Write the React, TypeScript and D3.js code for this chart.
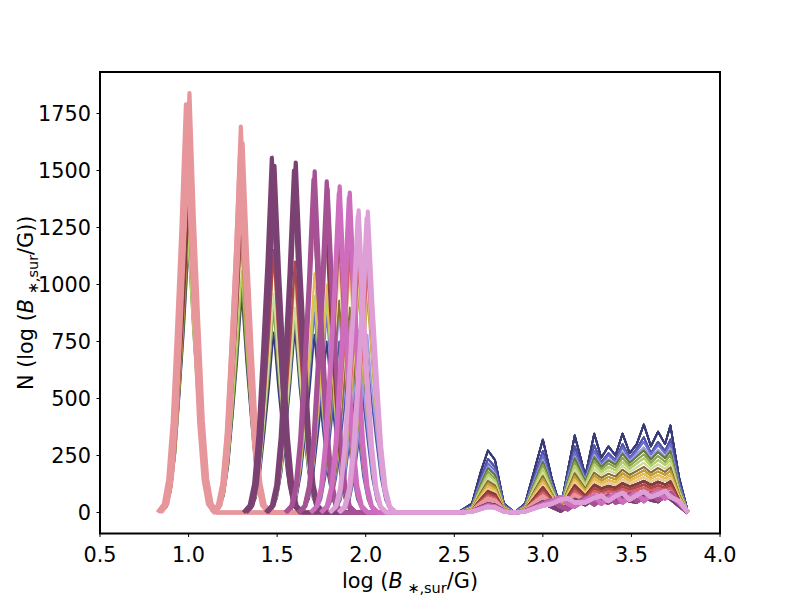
import * as d3 from "d3";

// tab20b palette, indexed by series colour
const TAB20B = [
  "#393b79", "#5254a3", "#6b6ecf", "#9c9ede",
  "#637939", "#8ca252", "#b5cf6b", "#cedb9c",
  "#8c6d31", "#bd9e39", "#e7ba52", "#e7cb94",
  "#843c39", "#ad494a", "#d6616b", "#e7969c",
  "#7b4173", "#a55194", "#ce6dbd", "#de9ed6",
];

const X_TICKS = [0.5, 1.0, 1.5, 2.0, 2.5, 3.0, 3.5, 4.0];
const Y_TICKS = [0, 250, 500, 750, 1000, 1250, 1500, 1750];

// bin offsets around each low-field peak (log B units)
const PEAK_OFFSETS = [-0.125, -0.1, -0.075, -0.05, -0.025, 0, 0.025, 0.05, 0.075, 0.1, 0.125];

// low-field peaks: [colour index, peak centre, counts at PEAK_OFFSETS]
const LOW_LINES: [number, number, number[]][] = [
  [0, 1.0, [23, 93, 255, 522, 812, 1160, 812, 522, 255, 93, 23]],
  [4, 1.0, [24, 95, 262, 536, 833, 1190, 833, 536, 262, 95, 24]],
  [6, 0.995, [25, 98, 271, 554, 861, 1230, 861, 554, 271, 98, 25]],
  [9, 1.0, [26, 104, 286, 585, 910, 1300, 910, 585, 286, 104, 26]],
  [10, 1.005, [28, 112, 308, 630, 980, 1400, 980, 630, 308, 112, 28]],
  [11, 0.995, [31, 124, 341, 698, 1085, 1550, 1085, 698, 341, 124, 31]],
  [12, 1.0, [27, 108, 297, 608, 945, 1350, 945, 608, 297, 108, 27]],
  [15, 0.985, [36, 143, 394, 806, 1253, 1790, 1253, 806, 394, 143, 36]],
  [15, 1.005, [37, 147, 405, 828, 1288, 1840, 1288, 828, 405, 147, 37]],
  [15, 0.995, [33, 131, 361, 738, 1148, 1640, 1148, 738, 361, 131, 33]],

  [0, 1.3, [19, 76, 209, 428, 665, 950, 665, 428, 209, 76, 19]],
  [4, 1.3, [20, 79, 218, 446, 693, 990, 693, 446, 218, 79, 20]],
  [6, 1.3, [21, 85, 233, 477, 742, 1060, 742, 477, 233, 85, 21]],
  [9, 1.295, [24, 96, 264, 540, 840, 1200, 840, 540, 264, 96, 24]],
  [10, 1.305, [27, 109, 299, 612, 952, 1360, 952, 612, 299, 109, 27]],
  [12, 1.3, [26, 104, 286, 585, 910, 1300, 910, 585, 286, 104, 26]],
  [15, 1.295, [34, 135, 372, 762, 1185, 1693, 1185, 762, 372, 135, 34]],
  [15, 1.305, [32, 130, 356, 729, 1134, 1620, 1134, 729, 356, 130, 32]],
  [15, 1.29, [31, 125, 343, 702, 1092, 1560, 1092, 702, 343, 125, 31]],

  [0, 1.48, [16, 63, 174, 356, 553, 790, 553, 356, 174, 63, 16]],
  [5, 1.48, [18, 71, 196, 401, 623, 890, 623, 401, 196, 71, 18]],
  [7, 1.48, [19, 77, 211, 432, 672, 960, 672, 432, 211, 77, 19]],
  [10, 1.48, [22, 90, 246, 504, 784, 1120, 784, 504, 246, 90, 22]],
  [11, 1.475, [31, 125, 344, 704, 1096, 1565, 1096, 704, 344, 125, 31]],
  [13, 1.48, [23, 92, 253, 518, 805, 1150, 805, 518, 253, 92, 23]],
  [16, 1.47, [31, 124, 342, 700, 1089, 1555, 1089, 700, 342, 124, 31]],
  [16, 1.485, [30, 122, 334, 684, 1064, 1520, 1064, 684, 334, 122, 30]],

  [0, 1.6, [16, 64, 176, 360, 560, 800, 560, 360, 176, 64, 16]],
  [5, 1.6, [17, 69, 189, 387, 602, 860, 602, 387, 189, 69, 17]],
  [7, 1.6, [18, 72, 198, 405, 630, 900, 630, 405, 198, 72, 18]],
  [11, 1.6, [20, 81, 222, 455, 707, 1010, 707, 455, 222, 81, 20]],
  [13, 1.6, [22, 88, 242, 495, 770, 1100, 770, 495, 242, 88, 22]],
  [16, 1.605, [31, 123, 338, 691, 1075, 1535, 1075, 691, 338, 123, 31]],
  [16, 1.595, [30, 120, 330, 675, 1050, 1500, 1050, 675, 330, 120, 30]],

  [0, 1.71, [16, 62, 172, 351, 546, 780, 546, 351, 172, 62, 16]],
  [2, 1.71, [18, 70, 194, 396, 616, 880, 616, 396, 194, 70, 18]],
  [6, 1.71, [19, 76, 209, 428, 665, 950, 665, 428, 209, 76, 19]],
  [10, 1.71, [21, 84, 231, 473, 735, 1050, 735, 473, 231, 84, 21]],
  [12, 1.705, [27, 107, 295, 603, 938, 1340, 938, 603, 295, 107, 27]],
  [17, 1.712, [30, 120, 329, 673, 1047, 1496, 1047, 673, 329, 120, 30]],
  [17, 1.705, [29, 117, 321, 657, 1022, 1460, 1022, 657, 321, 117, 29]],

  [0, 1.78, [15, 60, 165, 338, 525, 750, 525, 338, 165, 60, 15]],
  [2, 1.78, [17, 70, 191, 392, 609, 870, 609, 392, 191, 70, 17]],
  [6, 1.78, [19, 74, 205, 419, 651, 930, 651, 419, 205, 74, 19]],
  [10, 1.78, [20, 80, 220, 450, 700, 1000, 700, 450, 220, 80, 20]],
  [12, 1.775, [25, 100, 275, 563, 875, 1250, 875, 563, 275, 100, 25]],
  [17, 1.78, [29, 116, 319, 653, 1016, 1452, 1016, 653, 319, 116, 29]],
  [17, 1.785, [28, 114, 312, 639, 994, 1420, 994, 639, 312, 114, 28]],

  [1, 1.85, [15, 60, 165, 338, 525, 750, 525, 338, 165, 60, 15]],
  [3, 1.85, [17, 70, 191, 392, 609, 870, 609, 392, 191, 70, 17]],
  [8, 1.85, [19, 74, 205, 419, 651, 930, 651, 419, 205, 74, 19]],
  [11, 1.85, [22, 86, 238, 486, 756, 1080, 756, 486, 238, 86, 22]],
  [13, 1.85, [24, 96, 264, 540, 840, 1200, 840, 540, 264, 96, 24]],
  [18, 1.853, [29, 114, 315, 644, 1001, 1430, 1001, 644, 315, 114, 29]],
  [18, 1.848, [28, 112, 308, 630, 980, 1400, 980, 630, 308, 112, 28]],

  [1, 1.91, [14, 58, 158, 324, 504, 720, 504, 324, 158, 58, 14]],
  [3, 1.91, [17, 66, 183, 374, 581, 830, 581, 374, 183, 66, 17]],
  [8, 1.91, [18, 72, 198, 405, 630, 900, 630, 405, 198, 72, 18]],
  [11, 1.91, [21, 84, 231, 473, 735, 1050, 735, 473, 231, 84, 21]],
  [14, 1.91, [23, 92, 253, 518, 805, 1150, 805, 518, 253, 92, 23]],
  [18, 1.91, [28, 112, 309, 631, 982, 1403, 982, 631, 309, 112, 28]],
  [18, 1.905, [28, 110, 304, 621, 966, 1380, 966, 621, 304, 110, 28]],

  [1, 1.96, [14, 56, 154, 315, 490, 700, 490, 315, 154, 56, 14]],
  [3, 1.96, [16, 64, 176, 360, 560, 800, 560, 360, 176, 64, 16]],
  [9, 1.96, [19, 77, 211, 432, 672, 960, 672, 432, 211, 77, 19]],
  [11, 1.96, [20, 82, 224, 459, 714, 1020, 714, 459, 224, 82, 20]],
  [14, 1.96, [22, 88, 242, 495, 770, 1100, 770, 495, 242, 88, 22]],
  [19, 1.96, [27, 106, 292, 596, 928, 1325, 928, 596, 292, 106, 27]],
  [19, 1.955, [26, 104, 286, 585, 910, 1300, 910, 585, 286, 104, 26]],

  [1, 2.01, [14, 54, 150, 306, 476, 680, 476, 306, 150, 54, 14]],
  [3, 2.01, [16, 62, 172, 351, 546, 780, 546, 351, 172, 62, 16]],
  [9, 2.01, [19, 75, 207, 423, 658, 940, 658, 423, 207, 75, 19]],
  [11, 2.01, [20, 80, 220, 450, 700, 1000, 700, 450, 220, 80, 20]],
  [14, 2.01, [22, 86, 238, 486, 756, 1080, 756, 486, 238, 86, 22]],
  [19, 2.012, [26, 106, 290, 594, 924, 1320, 924, 594, 290, 106, 26]],
  [19, 2.005, [26, 103, 284, 581, 903, 1290, 903, 581, 284, 103, 26]],
];

// high-field bins shared by every series
const HIGH_X = [
  2.52, 2.6, 2.65, 2.69, 2.73, 2.78, 2.84, 2.9, 2.95, 3.0, 3.05, 3.1, 3.14, 3.18, 3.24,
  3.29, 3.33, 3.37, 3.41, 3.45, 3.49, 3.53, 3.57, 3.61, 3.65, 3.69, 3.72, 3.77, 3.82,
];

// high-field counts per colour index
const HIGH_COUNTS: number[][] = [
  [0, 40, 180, 272, 230, 40, 0, 40, 180, 320, 150, 20, 180, 338, 160, 346, 240, 290, 250, 346, 260, 300, 386, 290, 355, 300, 382, 150, 0],
  [0, 30, 150, 235, 200, 35, 0, 35, 150, 270, 130, 20, 160, 290, 150, 295, 220, 260, 230, 300, 240, 280, 330, 260, 310, 270, 320, 130, 0],
  [0, 28, 140, 215, 185, 30, 0, 30, 140, 250, 125, 22, 150, 265, 145, 270, 215, 250, 225, 285, 235, 270, 310, 255, 295, 260, 300, 120, 0],
  [0, 25, 130, 200, 170, 28, 0, 28, 130, 230, 118, 22, 140, 245, 140, 250, 205, 235, 215, 265, 225, 255, 285, 240, 275, 245, 280, 110, 0],
  [0, 24, 125, 195, 165, 27, 0, 27, 125, 222, 115, 20, 135, 238, 135, 242, 200, 228, 210, 258, 218, 245, 272, 232, 265, 238, 270, 105, 0],
  [0, 22, 115, 180, 150, 25, 0, 25, 118, 208, 108, 20, 125, 220, 128, 225, 190, 215, 198, 240, 205, 230, 255, 218, 248, 222, 252, 98, 0],
  [0, 20, 105, 165, 140, 22, 0, 22, 108, 192, 100, 18, 115, 205, 120, 210, 178, 200, 185, 222, 192, 215, 238, 204, 230, 208, 232, 92, 0],
  [0, 18, 95, 150, 128, 20, 0, 20, 100, 175, 92, 16, 105, 188, 112, 192, 165, 185, 172, 205, 178, 198, 218, 190, 212, 192, 215, 85, 0],
  [0, 16, 88, 138, 118, 18, 0, 18, 92, 160, 85, 15, 98, 172, 104, 175, 152, 170, 158, 188, 165, 182, 200, 175, 195, 178, 198, 78, 0],
  [0, 15, 80, 126, 108, 16, 0, 16, 85, 148, 78, 14, 90, 158, 96, 162, 140, 156, 145, 172, 152, 168, 185, 162, 180, 165, 182, 72, 0],
  [0, 14, 72, 115, 98, 15, 0, 15, 78, 135, 72, 13, 82, 145, 88, 148, 128, 142, 133, 158, 140, 154, 170, 148, 165, 150, 166, 66, 0],
  [0, 12, 65, 104, 88, 13, 0, 13, 70, 122, 65, 12, 75, 132, 80, 135, 117, 130, 121, 144, 128, 140, 155, 135, 150, 137, 152, 60, 0],
  [0, 11, 58, 93, 80, 12, 0, 12, 62, 110, 58, 11, 67, 118, 72, 121, 105, 116, 108, 128, 114, 125, 138, 120, 134, 122, 136, 54, 0],
  [0, 10, 52, 82, 70, 11, 0, 11, 55, 97, 52, 10, 60, 104, 64, 106, 93, 103, 96, 114, 101, 111, 122, 107, 119, 108, 120, 48, 0],
  [0, 9, 46, 73, 62, 10, 0, 10, 49, 86, 46, 9, 53, 92, 57, 94, 83, 92, 86, 101, 90, 99, 108, 95, 106, 96, 107, 42, 0],
  [0, 7, 38, 60, 51, 8, 0, 8, 40, 70, 38, 8, 44, 75, 47, 77, 68, 75, 70, 82, 73, 80, 88, 77, 86, 78, 87, 35, 0],
  [0, 5, 22, 36, 30, 6, 0, 6, 24, 45, 26, 8, 30, 55, 36, 62, 50, 44, 60, 68, 52, 48, 72, 56, 50, 78, 62, 30, 0],
  [0, 5, 20, 32, 27, 5, 0, 5, 22, 40, 55, 25, 14, 38, 64, 35, 56, 74, 44, 52, 80, 50, 62, 84, 56, 68, 86, 38, 0],
  [0, 4, 18, 30, 25, 5, 0, 5, 20, 35, 50, 68, 38, 26, 56, 74, 38, 62, 80, 44, 68, 86, 50, 76, 92, 62, 74, 44, 0],
  [0, 4, 15, 25, 22, 4, 0, 4, 18, 30, 38, 56, 62, 44, 44, 64, 74, 50, 72, 86, 56, 76, 92, 68, 80, 95, 68, 50, 0],
];

const WIDTH = 800;
const HEIGHT = 600;
const MARGIN = { top: 72, right: 80, bottom: 66.5, left: 100 };
const FONT = "'DejaVu Sans', sans-serif";

type Pt = [number, number];

function buildSeries() {
  const sorted = LOW_LINES.map((d, i) => ({ d, i })).sort(
    (a, b) => a.d[0] - b.d[0] || a.i - b.i
  );
  return sorted.map(({ d: [color, centre, counts] }) => {
    const pts: Pt[] = [[centre - 0.16, 0]];
    PEAK_OFFSETS.forEach((o, k) => pts.push([centre + o, counts[k]]));
    pts.push([centre + 0.16, 0]);
    HIGH_X.forEach((x, k) => pts.push([x, HIGH_COUNTS[color][k]]));
    return { color, pts };
  });
}

function strokeFor(c: number) {
  if (c >= 15) return 4.2;
  if (c >= 12) return 2.4;
  return 1.8;
}

export default function App() {
  const x = d3.scaleLinear().domain([0.5, 4.0]).range([MARGIN.left, WIDTH - MARGIN.right]);
  const y = d3.scaleLinear().domain([-92, 1932]).range([HEIGHT - MARGIN.bottom, MARGIN.top]);
  const line = d3
    .line<Pt>()
    .x((p) => x(p[0]))
    .y((p) => y(p[1]));
  const series = buildSeries();

  const left = MARGIN.left;
  const right = WIDTH - MARGIN.right;
  const top = MARGIN.top;
  const bottom = HEIGHT - MARGIN.bottom;

  return (
    <svg
      width={WIDTH}
      height={HEIGHT}
      style={{ position: "absolute", left: 0, top: 0, background: "#fff" }}
      fontFamily={FONT}
    >
      <defs>
        <clipPath id="plot-area">
          <rect x={left} y={top} width={right - left} height={bottom - top} />
        </clipPath>
      </defs>
      <rect width={WIDTH} height={HEIGHT} fill="#fff" />

      <g clipPath="url(#plot-area)">
        {series.map((s, i) => (
          <path
            key={i}
            d={line(s.pts) ?? ""}
            fill="none"
            stroke={TAB20B[s.color]}
            strokeWidth={strokeFor(s.color)}
            strokeLinejoin="round"
          />
        ))}
      </g>

      {X_TICKS.map((t) => (
        <g key={`x${t}`}>
          <line x1={x(t)} x2={x(t)} y1={bottom} y2={bottom + 3.5} stroke="#000" strokeWidth={1} />
          <text x={x(t)} y={562} textAnchor="middle" fontSize={20.8}>
            {t.toFixed(1)}
          </text>
        </g>
      ))}
      {Y_TICKS.map((t) => (
        <g key={`y${t}`}>
          <line x1={left - 3.5} x2={left} y1={y(t)} y2={y(t)} stroke="#000" strokeWidth={1} />
          <text x={left - 9} y={y(t)} dy="0.36em" textAnchor="end" fontSize={20.8}>
            {t}
          </text>
        </g>
      ))}

      <rect
        x={left}
        y={top}
        width={right - left}
        height={bottom - top}
        fill="none"
        stroke="#000"
        strokeWidth={2}
      />

      <text x={(left + right) / 2} y={588} textAnchor="middle" fontSize={20.8}>
        log (<tspan fontStyle="italic">B</tspan>
        <tspan fontSize={14.5} dy={5}> ∗,sur</tspan>
        <tspan dy={-5}>/G)</tspan>
      </text>

      <text
        transform={`translate(33,${(top + bottom) / 2}) rotate(-90)`}
        textAnchor="middle"
        fontSize={20.8}
      >
        N (log (<tspan fontStyle="italic">B</tspan>
        <tspan fontSize={14.5} dy={5}> ∗,sur</tspan>
        <tspan dy={-5}>/G))</tspan>
      </text>
    </svg>
  );
}
